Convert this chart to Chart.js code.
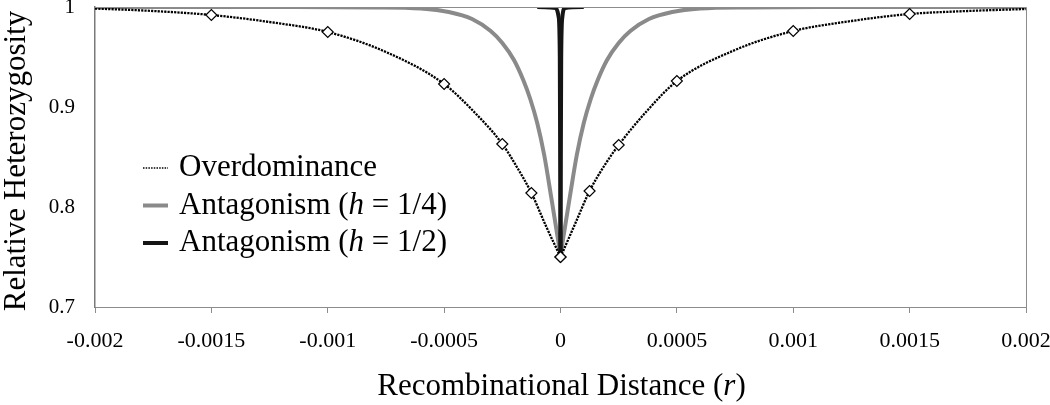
<!DOCTYPE html>
<html><head><meta charset="utf-8">
<script src="https://cdn.jsdelivr.net/npm/chart.js@4.4.1/dist/chart.umd.min.js"></script>
<style>html,body{margin:0;padding:0;background:#fff;}#wrap{width:1050px;height:405px;position:relative;}</style>
</head><body><div id="wrap"><canvas id="c"></canvas></div>
<script>
// ---- data ----
const xTickValues = [-0.002, -0.0015, -0.001, -0.0005, 0, 0.0005, 0.001, 0.0015, 0.002];
const xTickLabels = ["-0.002", "-0.0015", "-0.001", "-0.0005", "0", "0.0005", "0.001", "0.0015", "0.002"];
const yTickValues = [0.7, 0.8, 0.9, 1];
const yTickLabels = ["0.7", "0.8", "0.9", "1"];
const xTitle = ["Recombinational Distance (", "r", ")"];
const yTitle = "Relative Heterozygosity";
const seriesNames = [["Overdominance"], ["Antagonism (", "h", " = 1/4)"], ["Antagonism (", "h", " = 1/2)"]];

// Overdominance
const odR = [-0.002, -0.00175, -0.0015, -0.00125, -0.001, -0.00075, -0.0005, -0.000375, -0.00025, -0.0001875, -0.000125, -0.0000625, 0,
             0.0000625, 0.000125, 0.0001875, 0.00025, 0.000375, 0.0005, 0.00075, 0.001, 0.00125, 0.0015, 0.00175, 0.002];
const odH = [0.9985, 0.996, 0.992, 0.985, 0.975, 0.955, 0.923, 0.896, 0.863, 0.840, 0.814, 0.781, 0.750,
             0.783, 0.816, 0.841, 0.862, 0.897, 0.926, 0.957, 0.976, 0.986, 0.993, 0.996, 0.998];
const odMarkerR = [-0.0015, -0.001, -0.0005, -0.00025, -0.000125, 0, 0.000125, 0.00025, 0.0005, 0.001, 0.0015];

// Antagonism h = 1/4
const ag4R = [-0.002, -0.0012, -0.0008, -0.0006, -0.00048, -0.00038, -0.0003, -0.00025, -0.0002, -0.00016, -0.00013, -0.0001, -0.00007, -0.00004, 0,
              0.00004, 0.00007, 0.0001, 0.00013, 0.00016, 0.0002, 0.00025, 0.0003, 0.00038, 0.00048, 0.0006, 0.0008, 0.0012, 0.002];
const ag4H = [1.0, 0.9999, 0.9996, 0.9985, 0.995, 0.988, 0.976, 0.964, 0.947, 0.927, 0.908, 0.884, 0.852, 0.810, 0.752,
              0.810, 0.852, 0.884, 0.908, 0.927, 0.947, 0.964, 0.976, 0.988, 0.995, 0.9985, 0.9996, 0.9999, 1.0];

// Antagonism h = 1/2
const ag2R = [-0.0001, -0.00002, -0.000008, -0.000003, 0, 0.000003, 0.000008, 0.00002, 0.0001];
const ag2H = [1.0, 0.999, 0.99, 0.95, 0.752, 0.95, 0.99, 0.999, 1.0];

// ---- build datasets ----
function half(rArr, hArr, side) {
  const out = [];
  for (let i = 0; i < rArr.length; i++) {
    if ((side < 0 && rArr[i] <= 0) || (side > 0 && rArr[i] >= 0)) out.push({x: rArr[i], y: hArr[i]});
  }
  return out;
}
const FONT = '"Liberation Serif", "Times New Roman", serif';
const odStyle = {
  showLine: true, borderColor: '#000', borderWidth: 2.3, borderDash: [2.2, 1.1],
  cubicInterpolationMode: 'monotone', fill: false,
  pointStyle: 'rectRot', pointBackgroundColor: '#fff', pointBorderColor: '#000', pointBorderWidth: 1.2,
  pointRadius: (ctx) => (ctx.raw && odMarkerR.includes(ctx.raw.x)) ? 5.5 : 0,
  pointHoverRadius: 0
};
const ag4Style = {showLine: true, borderColor: '#8a8a8a', borderWidth: 4, cubicInterpolationMode: 'monotone', pointRadius: 0, fill: false};
const ag2Style = {showLine: true, borderColor: '#151515', borderWidth: 4, cubicInterpolationMode: 'monotone', pointRadius: 0, fill: false};

const datasets = [
  Object.assign({label: seriesNames[0].join(''), data: half(odR, odH, -1)}, odStyle),
  Object.assign({label: seriesNames[0].join('') + ' ', data: half(odR, odH, 1)}, odStyle),
  Object.assign({label: seriesNames[2].join(''), data: half(ag2R, ag2H, -1)}, ag2Style),
  Object.assign({label: seriesNames[2].join('') + ' ', data: half(ag2R, ag2H, 1)}, ag2Style),
  Object.assign({label: seriesNames[1].join(''), data: half(ag4R, ag4H, -1)}, ag4Style),
  Object.assign({label: seriesNames[1].join('') + ' ', data: half(ag4R, ag4H, 1)}, ag4Style)
];

function drawParts(ctx, parts, x, y, size, align) {
  const fonts = parts.map((p, i) => (i % 2 === 1 ? 'italic ' : '') + size + 'px ' + FONT);
  const widths = parts.map((p, i) => { ctx.font = fonts[i]; return ctx.measureText(p).width; });
  const total = widths.reduce((a, b) => a + b, 0);
  let cx = align === 'center' ? x - total / 2 : x;
  ctx.textAlign = 'left';
  parts.forEach((p, i) => { ctx.font = fonts[i]; ctx.fillText(p, cx, y); cx += widths[i]; });
}

const decor = {
  id: 'decor',
  afterDraw(chart) {
    const {ctx, chartArea: a} = chart;
    ctx.save();
    // top and right frame
    ctx.strokeStyle = '#8c8c8c'; ctx.lineWidth = 1;
    ctx.beginPath();
    ctx.moveTo(a.left, a.top + 0.5); ctx.lineTo(a.right + 0.5, a.top + 0.5); ctx.lineTo(a.right + 0.5, a.bottom);
    ctx.stroke();
    ctx.fillStyle = '#000'; ctx.textBaseline = 'middle';
    // x title
    drawParts(ctx, xTitle, (a.left + a.right) / 2 + 1, 387, 31, 'center');
    // y title
    ctx.save();
    ctx.translate(17, (a.top + a.bottom) / 2 + 4);
    ctx.rotate(-Math.PI / 2);
    ctx.font = '31px ' + FONT; ctx.textAlign = 'center';
    ctx.fillText(yTitle, 0, 0);
    ctx.restore();
    // legend
    const rows = [168, 205.5, 243];
    const styles = [
      {c: '#000', w: 1.5, d: [1.5, 1.2]},
      {c: '#8a8a8a', w: 4, d: []},
      {c: '#151515', w: 4, d: []}
    ];
    rows.forEach((ry, i) => {
      ctx.strokeStyle = styles[i].c; ctx.lineWidth = styles[i].w; ctx.setLineDash(styles[i].d);
      ctx.beginPath(); ctx.moveTo(143, ry); ctx.lineTo(168, ry); ctx.stroke();
      ctx.setLineDash([]);
      ctx.fillStyle = '#000';
      drawParts(ctx, seriesNames[i], 179, ry, 31, 'left');
    });
    ctx.restore();
  }
};

Chart.defaults.font.family = FONT;
Chart.defaults.color = '#000';

new Chart(document.getElementById('c'), {
  type: 'scatter',
  data: {datasets},
  options: {
    responsive: true, maintainAspectRatio: false, animation: false, devicePixelRatio: 1,
    layout: {padding: {top: 7, right: 24, left: 0, bottom: 0}},
    plugins: {legend: {display: false}, tooltip: {enabled: false}},
    events: [],
    scales: {
      x: {
        type: 'linear', min: -0.002, max: 0.002,
        afterBuildTicks: (s) => { s.ticks = xTickValues.map(v => ({value: v})); },
        afterFit: (s) => { s.height = 98; s.paddingLeft = 0; s.paddingRight = 0; },
        ticks: {
          font: {size: 22}, padding: 15, maxRotation: 0, autoSkip: false,
          callback: (v) => { const i = xTickValues.findIndex(t => Math.abs(t - v) < 1e-9); return i >= 0 ? xTickLabels[i] : ''; }
        },
        grid: {display: true, drawOnChartArea: false, drawTicks: true, tickLength: 6, color: '#8c8c8c', lineWidth: 1},
        border: {display: true, color: '#8c8c8c', width: 1}
      },
      y: {
        type: 'linear', min: 0.7, max: 1,
        afterBuildTicks: (s) => { s.ticks = yTickValues.map(v => ({value: v})); },
        afterFit: (s) => { s.width = 95; s.paddingTop = 0; s.paddingBottom = 0; },
        ticks: {
          font: {size: 21}, padding: 20, autoSkip: false,
          callback: (v) => { const i = yTickValues.findIndex(t => Math.abs(t - v) < 1e-9); return i >= 0 ? yTickLabels[i] : ''; }
        },
        grid: {display: false, drawTicks: false},
        border: {display: true, color: '#7a7a7a', width: 1.5}
      }
    }
  },
  plugins: [decor]
});
</script></body></html>
